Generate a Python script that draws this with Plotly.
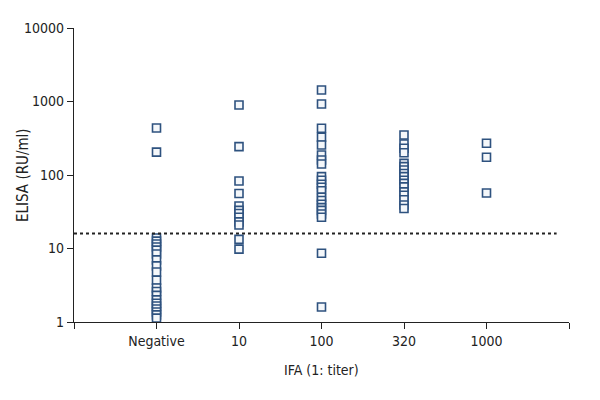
import plotly.graph_objects as go

categories = ["Negative", "10", "100", "320", "1000"]

negative_vals = [436, 205, 13.9, 12.6, 11.5, 10.5, 9.5, 8.4, 7.0, 5.8, 4.8, 3.7, 2.9, 2.6, 2.3, 2.0, 1.8, 1.65, 1.5, 1.37, 1.25, 1.13]
titer10_vals = [895, 243, 83, 56, 37.8, 33, 30, 26.6, 23, 20.9, 13.3, 9.8]
titer100_vals = [1433, 925, 432, 326, 256, 187, 160, 141, 95, 85, 75, 68, 61, 50, 45, 40, 36, 33, 29.5, 26.6, 8.6, 1.6]
titer320_vals = [350, 264, 231, 201, 144, 130, 117, 105, 95, 85, 77, 69, 59, 53, 46, 39, 35]
titer1000_vals = [270, 174, 57]

cutoff = 16
cutoff_x = [-1, 4.85]

x_title = "IFA (1: titer)"
y_title = "ELISA (RU/ml)"

series = [negative_vals, titer10_vals, titer100_vals, titer320_vals, titer1000_vals]

xs, ys = [], []
for i, vals in enumerate(series):
    xs += [i] * len(vals)
    ys += vals

font_family = "DejaVu Sans Condensed, Liberation Sans Narrow, sans-serif"

fig = go.Figure()
fig.add_trace(go.Scatter(
    x=xs, y=ys, mode="markers",
    marker=dict(symbol="square", size=8, color="#f4f7fa",
                line=dict(color="#2e527f", width=1.6)),
    showlegend=False, hoverinfo="y"))
fig.add_trace(go.Scatter(
    x=cutoff_x, y=[cutoff, cutoff], mode="lines",
    line=dict(color="#222222", width=2.2, dash="dot"),
    showlegend=False, hoverinfo="skip"))

fig.update_layout(
    width=592, height=392,
    margin=dict(l=66, r=31, t=20, b=78),
    paper_bgcolor="white", plot_bgcolor="white",
    font=dict(family=font_family, size=14, color="#222222"),
    xaxis=dict(
        range=[-1, 5], tickmode="array",
        tickvals=[-1, 0, 1, 2, 3, 4, 5],
        ticktext=[""] + categories + [""],
        showgrid=False, zeroline=False, automargin=False,
        showline=True, linecolor="#222222", linewidth=1.2,
        ticks="outside", ticklen=6, tickcolor="#222222", tickwidth=1.2,
    ),
    yaxis=dict(
        type="log", range=[0, 4],
        tickvals=[1, 10, 100, 1000, 10000],
        ticktext=["1", "10", "100", "1000", "10000"],
        showgrid=False, zeroline=False, automargin=False,
        showline=True, linecolor="#222222", linewidth=1.2,
        ticks="outside", ticklen=6, tickcolor="#222222", tickwidth=1.2,
    ),
    annotations=[
        dict(text=x_title, xref="paper", yref="paper", x=0.5, y=0,
             yshift=-48, showarrow=False,
             font=dict(family=font_family, size=14, color="#222222"),
             xanchor="center", yanchor="middle"),
        dict(text=y_title, xref="paper", yref="paper", x=0, y=0.5,
             xshift=-51, showarrow=False,
             font=dict(family=font_family, size=15, color="#222222"),
             textangle=-90, xanchor="center", yanchor="middle"),
    ],
)

fig.write_html("out.html")
